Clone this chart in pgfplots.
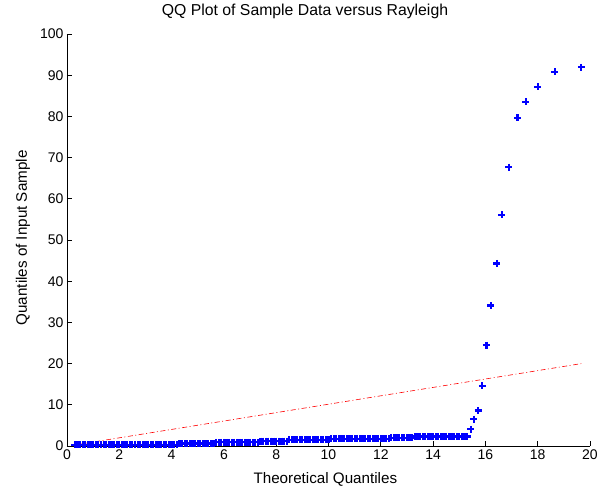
\documentclass[border=0pt]{standalone}
\usepackage{fontspec}
\setmainfont{Liberation Sans}
\usepackage{pgfplots}
\pgfplotsset{compat=1.18}

\newcommand{\chartfont}{\fontsize{14}{16}\selectfont}
\newcommand{\labelfont}{\fontsize{15.2}{17}\selectfont}

\begin{document}
\begin{tikzpicture}
\begin{axis}[
    scale only axis, width=523pt, height=412pt,
    xmin=0, xmax=20, ymin=0, ymax=100,
    xtick={0,2,...,20}, ytick={0,10,...,100},
    axis x line*=bottom, axis y line*=left,
    tick align=inside, major tick length=5pt,
    every tick/.style={black, line width=0.6pt},
    axis line style={line width=0.6pt},
    tick label style={font=\chartfont},
    /pgf/number format/assume math mode=true,
    label style={font=\labelfont},
    xlabel={Theoretical Quantiles},
    xlabel style={at={(axis description cs:0.494,-0.080)}, anchor=center},
    ylabel={Quantiles of Input Sample},
    ylabel style={at={(axis description cs:-0.084,0.505)}, anchor=center},
    title={QQ Plot of Sample Data versus Rayleigh},
    title style={font=\fontsize{15.8}{18}\selectfont, at={(axis description cs:0.455,1.041)}, anchor=center},
    clip=false,
]
% sample quantiles against Rayleigh quantiles
\addplot[only marks, color=blue, mark=+, mark size=3.5pt,
         mark options={color=blue, line width=2.2pt}] coordinates {
(0.3,0.3)(0.4,0.3)(0.5,0.3)(0.6,0.3)(0.7,0.3)(0.8,0.3)(0.9,0.3)(1.0,0.3)(1.1,0.3)(1.2,0.3)
(1.3,0.3)(1.4,0.3)(1.5,0.3)(1.6,0.3)(1.7,0.3)(1.8,0.3)(1.9,0.3)(2.0,0.3)(2.1,0.3)(2.2,0.3)
(2.3,0.3)(2.4,0.3)(2.5,0.3)(2.6,0.3)(2.7,0.3)(2.8,0.3)(2.9,0.3)(3.0,0.3)(3.1,0.3)(3.2,0.3)
(3.3,0.3)(3.4,0.3)(3.5,0.3)(3.6,0.3)(3.7,0.3)(3.8,0.3)(3.9,0.3)(4.0,0.3)(4.1,0.3)(4.2,0.3)
(4.3,0.6)(4.4,0.6)(4.5,0.6)(4.6,0.6)(4.7,0.6)(4.8,0.6)(4.9,0.6)(5.0,0.6)(5.1,0.6)(5.2,0.6)
(5.3,0.6)(5.4,0.6)(5.5,0.6)(5.6,0.6)
(5.7,0.9)(5.8,0.9)(5.9,0.9)(6.0,0.9)(6.1,0.9)(6.2,0.9)(6.3,0.9)(6.4,0.9)(6.5,0.9)(6.6,0.9)
(6.7,0.9)(6.8,0.9)(6.9,0.9)(7.0,0.9)(7.1,0.9)(7.2,0.9)(7.3,0.9)
(7.4,1.2)(7.5,1.2)(7.6,1.2)(7.7,1.2)(7.8,1.2)(7.9,1.2)(8.0,1.2)(8.1,1.2)(8.2,1.2)(8.3,1.2)(8.4,1.2)
(8.5,1.5)(8.6,1.5)(8.7,1.5)(8.8,1.5)(8.9,1.5)(9.0,1.5)(9.1,1.5)(9.2,1.5)(9.3,1.5)(9.4,1.5)
(9.5,1.5)(9.6,1.5)(9.7,1.5)(9.8,1.5)(9.9,1.5)(10.0,1.5)
(10.1,1.7)(10.2,1.7)(10.3,1.7)(10.4,1.7)(10.5,1.7)(10.6,1.7)(10.7,1.7)(10.8,1.7)(10.9,1.7)(11.0,1.7)
(11.1,1.7)(11.2,1.7)(11.3,1.7)(11.4,1.7)(11.5,1.7)(11.6,1.7)(11.7,1.7)(11.8,1.7)(11.9,1.7)(12.0,1.7)
(12.1,1.7)(12.2,1.7)(12.3,1.7)
(12.4,2.0)(12.5,2.0)(12.6,2.0)(12.7,2.0)(12.8,2.0)(12.9,2.0)(13.0,2.0)(13.1,2.0)(13.2,2.0)
(13.3,2.3)(13.4,2.3)(13.5,2.3)(13.6,2.3)(13.7,2.3)(13.8,2.3)(13.9,2.3)(14.0,2.3)(14.1,2.3)(14.2,2.3)
(14.3,2.3)(14.4,2.3)(14.5,2.3)(14.6,2.3)(14.7,2.3)(14.8,2.3)(14.9,2.3)(15.0,2.3)(15.1,2.3)(15.2,2.3)
(15.3,2.3)
(15.44,4.1)(15.56,6.5)(15.72,8.6)(15.88,14.6)(16.04,24.5)(16.21,34.1)(16.44,44.3)
(16.63,56.1)(16.90,67.7)(17.23,79.7)(17.55,83.5)(18.00,87.2)(18.66,90.8)(19.67,91.9)
};
% reference line
\addplot[red, line width=0.6pt, dash pattern=on 5pt off 2.5pt on 1pt off 2.5pt]
    coordinates {(0.25,0.2) (19.67,20.0)};
\end{axis}
\pgfresetboundingbox
\path (-67pt,-47pt) rectangle (531pt,446pt);
\end{tikzpicture}
\end{document}
